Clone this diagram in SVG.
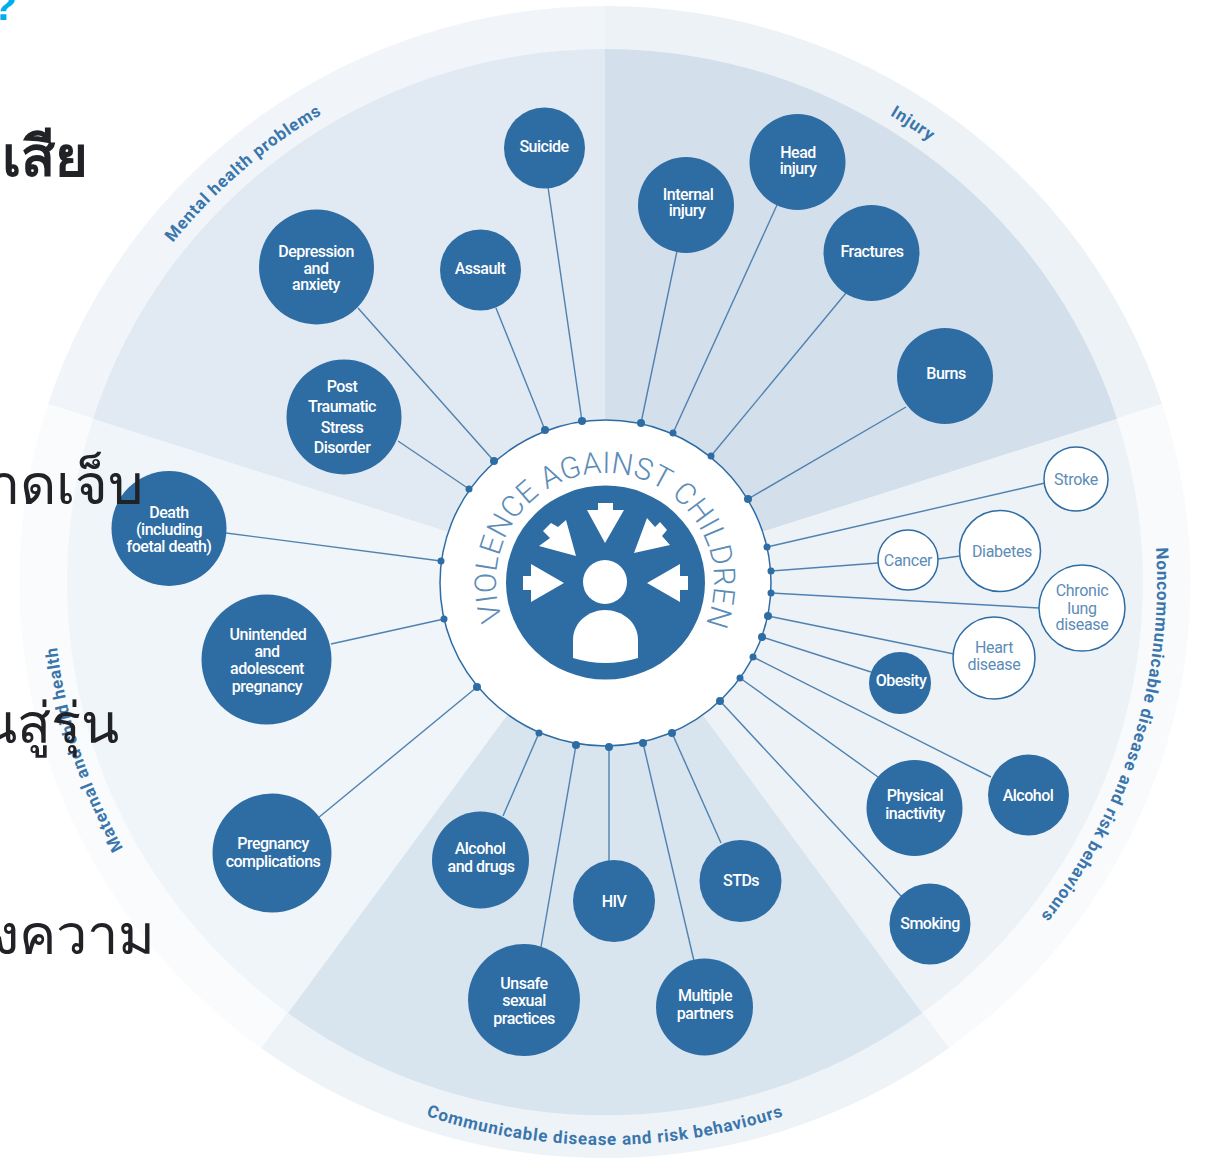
<svg xmlns="http://www.w3.org/2000/svg" width="1206" height="1158" viewBox="0 0 1206 1158">
<style>
text{font-family:"Roboto","Liberation Sans",sans-serif}
.n{fill:#2e6ca4}
.w{fill:#fff;stroke:#2e6ca4;stroke-width:1.5}
.t{fill:#fff;font-size:16px;font-weight:500;text-anchor:middle;letter-spacing:-.5px}
.b{fill:#5c8cb8;font-size:16px;text-anchor:middle;letter-spacing:-.3px}
.l{fill:#3a76ab;font-size:17px;font-weight:700;text-anchor:middle;letter-spacing:.8px}
.c line{stroke:#4f82b0;stroke-width:1.4}
.c circle{fill:#2e6ca4}
.th{fill:#212226;font-family:"Noto Sans","DejaVu Sans",sans-serif;font-size:56px;text-anchor:end}
</style>
<defs>
<path id="pMental" d="M53 582A552 545 0 0 1 605 37"/>
<path id="pInjury" d="M605 37A552 545 0 0 1 1157 582"/>
<path id="pNcd" d="M605 37A552 545 0 0 1 605 1127"/>
<path id="pMat" d="M605 1127A552 545 0 0 1 605 37"/>
<path id="pCom" d="M42 582A563 563 0 0 0 1168 582"/>
<path id="pCenter" d="M502.600 619.300A109 109 0 1 1 707.400 619.300"/>
</defs>
<rect width="1206" height="1158" fill="#fff"/>
<g id="sectors">
<path fill="#f1f5fa" d="M605 582L48 404A585 576 0 0 1 605 6Z"/>
<path fill="#edf2f7" d="M605 582L605 6A585 576 0 0 1 1162 404Z"/>
<path fill="#f8fafc" d="M605 582L1162 404A585 576 0 0 1 949 1048Z"/>
<path fill="#eef3f8" d="M605 582L949 1048A585 576 0 0 1 261 1048Z"/>
<path fill="#f9fbfc" d="M605 582L261 1048A585 576 0 0 1 48 404Z"/>
<path fill="#e1e9f2" d="M605 582L93 419A538 533 0 0 1 605 49Z"/>
<path fill="#d3dfeb" d="M605 582L605 49A538 533 0 0 1 1117 419Z"/>
<path fill="#edf2f7" d="M605 582L1117 419A538 533 0 0 1 922 1013Z"/>
<path fill="#d8e4ee" d="M605 582L922 1013A538 533 0 0 1 288 1013Z"/>
<path fill="#f0f5fa" d="M605 582L288 1013A538 533 0 0 1 93 419Z"/>
</g>
<ellipse id="ring" cx="605.5" cy="583" rx="165.500" ry="163" fill="#fff" stroke="#2e6ca4" stroke-width="1.500"/>
<g id="connectors" class="c">
<line x1="548" y1="187" x2="582" y2="421"/><circle cx="582" cy="421" r="4"/>
<line x1="496" y1="308" x2="545" y2="430"/><circle cx="545" cy="430" r="4"/>
<line x1="358" y1="308" x2="494" y2="461"/><circle cx="494" cy="461" r="4"/>
<line x1="398" y1="441" x2="469" y2="489"/><circle cx="469" cy="489" r="3.500"/>
<line x1="226" y1="533" x2="441" y2="561"/><circle cx="441" cy="561" r="3.500"/>
<line x1="331" y1="644" x2="444" y2="619"/><circle cx="444" cy="619" r="3.500"/>
<line x1="318" y1="818" x2="477" y2="687"/><circle cx="477" cy="687" r="4"/>
<line x1="503" y1="816" x2="539" y2="733"/><circle cx="539" cy="733" r="3.500"/>
<line x1="541" y1="947" x2="576" y2="745"/><circle cx="576" cy="745" r="4"/>
<line x1="609" y1="861" x2="609" y2="747"/><circle cx="609" cy="747" r="4"/>
<line x1="694" y1="961" x2="643" y2="743"/><circle cx="643" cy="743" r="4"/>
<line x1="721" y1="843" x2="672" y2="733"/><circle cx="672" cy="733" r="4"/>
<line x1="901" y1="896" x2="720" y2="701"/><circle cx="720" cy="701" r="4"/>
<line x1="878" y1="777" x2="740" y2="678"/><circle cx="740" cy="678" r="3.500"/>
<line x1="991" y1="777" x2="753" y2="657"/><circle cx="753" cy="657" r="3.500"/>
<line x1="871" y1="672" x2="762" y2="637"/><circle cx="762" cy="637" r="4"/>
<line x1="954" y1="654" x2="768" y2="616"/><circle cx="768" cy="616" r="4"/>
<line x1="1039" y1="608" x2="771" y2="593"/><circle cx="771" cy="593" r="3.500"/>
<line x1="878" y1="563" x2="771" y2="571"/><circle cx="771" cy="571" r="3.500"/>
<line x1="938" y1="559" x2="960" y2="556"/>
<line x1="1045" y1="483" x2="767" y2="547"/><circle cx="767" cy="547" r="3.500"/>
<line x1="906" y1="407" x2="748" y2="499"/><circle cx="748" cy="499" r="4"/>
<line x1="846" y1="293" x2="711" y2="456"/><circle cx="711" cy="456" r="3.500"/>
<line x1="777" y1="205" x2="673" y2="433"/><circle cx="673" cy="433" r="3.500"/>
<line x1="677" y1="251" x2="641" y2="423"/><circle cx="641" cy="423" r="4"/>
</g>
<g id="center">
<ellipse class="n" cx="605.5" cy="582.500" rx="99.500" ry="97"/>
<g fill="#fff">
<circle cx="605" cy="582" r="22"/>
<path d="M573 658V640C573 622 589 610 605 610C622 610 638 622 638 640V658Q605 668 573 658Z"/>
<polygon points="598,503 613,503 613,510 624,510 605,543 587,510 598,510"/>
<polygon points="531,564 564,583 531,602 531,590 523,590 523,576 531,576"/>
<polygon points="680,564 647,583 680,602 680,590 688,590 688,576 680,576"/>
<polygon points="576,556 539,546 550,538 543,531 551,523 558,527 566,520"/>
<polygon points="634,553 647,518 655,527 660,522 667,530 662,536 670,545"/>
</g>
<text fill="#5c8cb8" font-size="30" letter-spacing=".3" style="font-weight:300"><textPath href="#pCenter" startOffset="0">VIOLENCE AGAINST CHILDREN</textPath></text>
</g>
<g id="n-suicide"><circle class="n" cx="544.500" cy="148" r="40.500"/><text class="t" x="544" y="152">Suicide</text></g>
<g id="n-assault"><circle class="n" cx="480.500" cy="270" r="40.500"/><text class="t" x="480" y="274">Assault</text></g>
<g id="n-depression"><circle class="n" cx="316.500" cy="267" r="57.500"/><text class="t" x="316" y="257">Depression</text><text class="t" x="316" y="274">and</text><text class="t" x="316" y="290">anxiety</text></g>
<g id="n-ptsd"><circle class="n" cx="344" cy="417" r="57.500"/><text class="t" x="342" y="392">Post</text><text class="t" x="342" y="412">Traumatic</text><text class="t" x="342" y="433">Stress</text><text class="t" x="342" y="453">Disorder</text></g>
<g id="n-death"><circle class="n" cx="169" cy="528.500" r="57.500"/><text class="t" x="169" y="518">Death</text><text class="t" x="169" y="535">(including</text><text class="t" x="169" y="552">foetal death)</text></g>
<g id="n-unintended"><circle class="n" cx="266.500" cy="659.500" r="65"/><text class="t" x="268" y="640">Unintended</text><text class="t" x="267" y="657">and</text><text class="t" x="267" y="674">adolescent</text><text class="t" x="267" y="692">pregnancy</text></g>
<g id="n-pregnancy"><circle class="n" cx="272" cy="853" r="59.500"/><text class="t" x="273" y="849">Pregnancy</text><text class="t" x="273" y="867">complications</text></g>
<g id="n-alcoholdrugs"><circle class="n" cx="480.500" cy="860" r="48.500"/><text class="t" x="480" y="854">Alcohol</text><text class="t" x="481" y="872">and drugs</text></g>
<g id="n-hiv"><circle class="n" cx="614" cy="901" r="41"/><text class="t" x="614" y="907">HIV</text></g>
<g id="n-stds"><circle class="n" cx="740.500" cy="881" r="41"/><text class="t" x="741" y="886">STDs</text></g>
<g id="n-unsafe"><circle class="n" cx="524" cy="1000" r="56"/><text class="t" x="524" y="989">Unsafe</text><text class="t" x="524" y="1006">sexual</text><text class="t" x="524" y="1024">practices</text></g>
<g id="n-multiple"><circle class="n" cx="704.500" cy="1007" r="48.500"/><text class="t" x="705" y="1001">Multiple</text><text class="t" x="705" y="1019">partners</text></g>
<g id="n-smoking"><circle class="n" cx="930" cy="924" r="40.500"/><text class="t" x="930" y="929">Smoking</text></g>
<g id="n-physical"><circle class="n" cx="914.500" cy="808" r="48"/><text class="t" x="915" y="801">Physical</text><text class="t" x="915" y="819">inactivity</text></g>
<g id="n-alcohol"><circle class="n" cx="1028.500" cy="795" r="40.500"/><text class="t" x="1028" y="801">Alcohol</text></g>
<g id="n-obesity"><circle class="n" cx="900" cy="683" r="31"/><text class="t" x="901" y="686">Obesity</text></g>
<g id="n-heart"><circle class="w" cx="994" cy="658" r="41"/><text class="b" x="994" y="653">Heart</text><text class="b" x="994" y="670">disease</text></g>
<g id="n-chronic"><circle class="w" cx="1082" cy="608" r="43"/><text class="b" x="1082" y="596">Chronic</text><text class="b" x="1082" y="614">lung</text><text class="b" x="1082" y="630">disease</text></g>
<g id="n-cancer"><circle class="w" cx="908" cy="560" r="30"/><text class="b" x="908" y="566">Cancer</text></g>
<g id="n-diabetes"><circle class="w" cx="1000" cy="551" r="40.500"/><text class="b" x="1002" y="557">Diabetes</text></g>
<g id="n-stroke"><circle class="w" cx="1076" cy="479" r="32"/><text class="b" x="1076" y="485">Stroke</text></g>
<g id="n-burns"><circle class="n" cx="945" cy="376" r="48"/><text class="t" x="946" y="379">Burns</text></g>
<g id="n-fractures"><circle class="n" cx="871.500" cy="253" r="48"/><text class="t" x="872" y="257">Fractures</text></g>
<g id="n-head"><circle class="n" cx="797.500" cy="162" r="48"/><text class="t" x="798" y="158">Head</text><text class="t" x="798" y="174">injury</text></g>
<g id="n-internal"><circle class="n" cx="686" cy="205" r="48"/><text class="t" x="688" y="200">Internal</text><text class="t" x="687" y="216">injury</text></g>
<g id="labels">
<text class="l"><textPath href="#pMental" startOffset="466">Mental health problems</textPath></text>
<text class="l"><textPath href="#pInjury" startOffset="323">Injury</textPath></text>
<text class="l"><textPath href="#pNcd" startOffset="1025">Noncommunicable disease and risk behaviours</textPath></text>
<text class="l"><textPath href="#pMat" startOffset="690">Maternal and child health</textPath></text>
<text class="l"><textPath href="#pCom" startOffset="50%">Communicable disease and risk behaviours</textPath></text>
</g>
<g id="page-text">
<text x="17" y="20" fill="#00aeef" font-size="42" font-weight="700" text-anchor="end" style="font-family:'Liberation Sans',sans-serif">?</text>
<text class="th" x="88" y="176" font-weight="700">เสีย</text>
<text class="th" x="144" y="504">าดเจ็บ</text>
<text class="th" x="119" y="743">นสู่รุ่น</text>
<text class="th" x="155" y="954">งความ</text>
</g>
</svg>
